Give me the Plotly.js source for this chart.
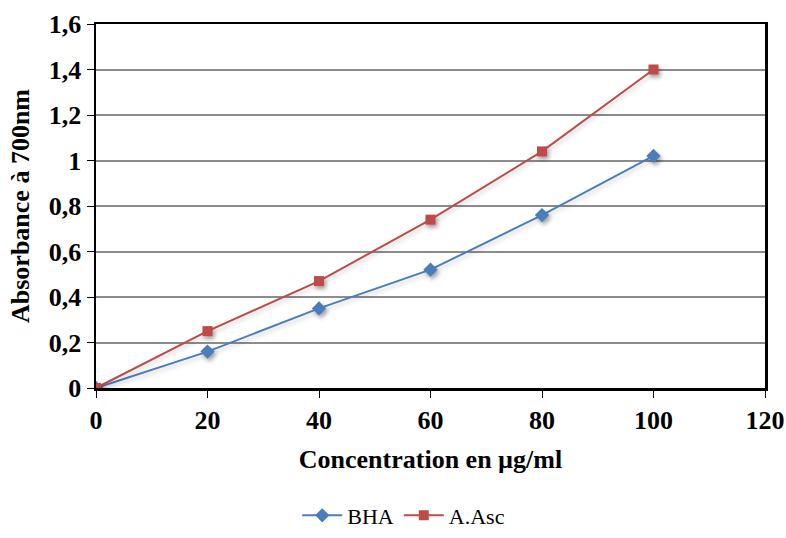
<!DOCTYPE html>
<html>
<head>
<meta charset="utf-8">
<script src="https://cdn.plot.ly/plotly-3.0.1.min.js"></script>
<style>
html,body{margin:0;padding:0;background:#fff;}
#chart{width:786px;height:538px;}
/* soft drop shadows under the markers and lines */
#chart .scatterlayer .points path{filter:drop-shadow(2px 3px 2px rgba(0,0,0,0.35));}
#chart .scatterlayer .js-line{filter:drop-shadow(1px 3px 2px rgba(0,0,0,0.18));}
</style>
</head>
<body>
<div id="chart"></div>
<script>
// Concentration (µg/ml) and absorbance at 700 nm
const concentration = [0, 20, 40, 60, 80, 100];
const absBHA = [0, 0.16, 0.35, 0.52, 0.76, 1.02];
const absAsc = [0, 0.25, 0.47, 0.74, 1.04, 1.40];

const serif = 'Liberation Serif, Times New Roman, serif';

const traces = [
  {
    x: concentration, y: absBHA, name: 'BHA', type: 'scatter', mode: 'lines+markers',
    line: {color: '#4A7EBB', width: 2},
    marker: {symbol: 'diamond', size: 11, color: '#4A7EBB'}
  },
  {
    x: concentration, y: absAsc, name: 'A.Asc', type: 'scatter', mode: 'lines+markers',
    line: {color: '#BE4B48', width: 2},
    marker: {symbol: 'square', size: 10, color: '#BE4B48'}
  }
];

const layout = {
  width: 786, height: 538,
  margin: {l: 96, r: 21, t: 24, b: 150, autoexpand: false},
  paper_bgcolor: '#fff', plot_bgcolor: '#fff',
  separators: ', ',
  showlegend: true,
  legend: {
    orientation: 'h', x: 0.46, xanchor: 'center', y: -0.408, yanchor: 'bottom',
    font: {family: serif, size: 22, color: '#000'},
    itemwidth: 40, tracegroupgap: 0
  },
  xaxis: {
    range: [0, 120], dtick: 20, zeroline: false,
    showgrid: false, showline: true, linecolor: '#000', linewidth: 2.5, mirror: true,
    ticks: 'outside', ticklen: 7, tickcolor: '#000', tickwidth: 1,
    tickfont: {family: serif, size: 26, color: '#000', weight: 'bold'},
    title: {text: '<b>Concentration en µg/ml</b>', font: {family: serif, size: 26, color: '#000'}, standoff: 16}
  },
  yaxis: {
    range: [0, 1.6], dtick: 0.2, zeroline: false,
    showgrid: true, gridcolor: '#8c8c8c', gridwidth: 2,
    showline: true, linecolor: '#000', linewidth: 2.5, mirror: true,
    ticks: 'outside', ticklen: 7, tickcolor: '#000', tickwidth: 1,
    tickfont: {family: serif, size: 26, color: '#000', weight: 'bold'},
    title: {text: '<b>Absorbance à 700nm</b>', font: {family: serif, size: 26, color: '#000'}, standoff: 12}
  }
};

Plotly.newPlot('chart', traces, layout, {displayModeBar: false, staticPlot: true});
</script>
</body>
</html>
